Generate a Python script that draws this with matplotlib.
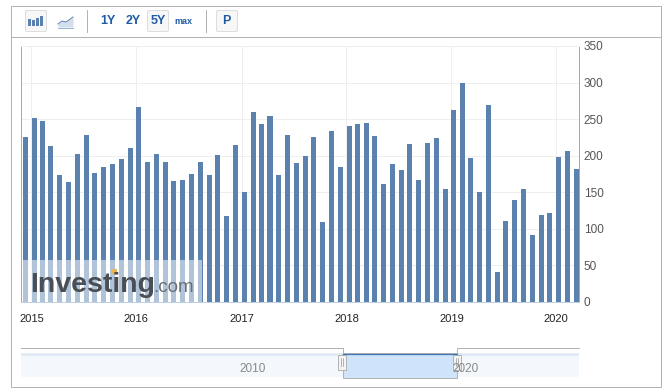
import matplotlib
matplotlib.use('Agg')
import matplotlib.pyplot as plt
from matplotlib.patches import Rectangle, FancyBboxPatch
import pandas as pd

W, H = 670, 390

values = [225, 252, 248, 213, 173, 164, 202, 228, 176, 185, 188, 195, 210, 267, 192, 203,
          192, 166, 167, 175, 192, 173, 201, 118, 214, 150, 260, 244, 254, 173, 229, 190,
          200, 226, 109, 234, 184, 241, 243, 245, 227, 162, 188, 180, 216, 167, 217, 224,
          155, 263, 299, 197, 150, 269, 41, 111, 140, 155, 92, 119, 122, 198, 207, 182]
dates = pd.date_range('2014-12-10', periods=len(values), freq=pd.DateOffset(months=1))
years = [2015, 2016, 2017, 2018, 2019, 2020]
y_ticks = [0, 50, 100, 150, 200, 250, 300, 350]
range_buttons = ['1Y', '2Y', '5Y']
nav_years = ['2010', '2020']

plt.rcParams['font.family'] = ['Liberation Sans', 'DejaVu Sans']
BAR = '#5b82ae'
GRID = '#eeeeee'
FRAME = '#b3b3b3'
BLUE = '#1f5ca6'
LW = 0.72  # one pixel at dpi 100

fig = plt.figure(figsize=(W / 100, H / 100), dpi=100, facecolor='white')


def px_axes(x0, y0, x1, y1, **kw):
    # axes placed using image pixels (y from the top)
    return fig.add_axes([x0 / W, 1 - y1 / H, (x1 - x0) / W, (y1 - y0) / H], **kw)


# main chart
ax = px_axes(20.5, 46, 579, 302)
ax.bar(dates, values, width=17.4, color=BAR, zorder=3)
ax.set_xlim(pd.Timestamp('2014-11-24'), pd.Timestamp('2020-03-20'))
ax.set_ylim(0, 350)
ax.set_yticks(y_ticks)
ax.set_xticks([pd.Timestamp(str(y) + '-01-01') for y in years])
ax.set_xticklabels(years)
ax.yaxis.tick_right()
ax.grid(True, color=GRID, lw=LW, zorder=0)
ax.tick_params(axis='both', length=0)
ax.tick_params(axis='y', labelsize=8.5, labelcolor='#555555', pad=3.5)
ax.tick_params(axis='x', labelsize=8, labelcolor='#222222', pad=9)
for side, col in [('top', GRID), ('left', '#aaaaaa'), ('right', '#aaaaaa'), ('bottom', '#c0d0e2')]:
    ax.spines[side].set_color(col)
    ax.spines[side].set_linewidth(LW)

# overlay in pixel coordinates for the page chrome
ov = fig.add_axes([0, 0, 1, 1], facecolor='none')
ov.set_xlim(0, W)
ov.set_ylim(H, 0)
ov.axis('off')

# outer frame and toolbar
ov.add_patch(Rectangle((10.5, 5.5), 650.5, 381, fill=False, ec=FRAME, lw=LW))
ov.plot([10.5, 661], [36.5, 36.5], color=FRAME, lw=LW)
for x in [86.5, 205.5]:
    ov.plot([x, x], [10, 32], color=FRAME, lw=LW)
for x0 in [25.5, 147.5, 216.5]:
    ov.add_patch(FancyBboxPatch((x0, 10.5), 21, 21, boxstyle='round,pad=0,rounding_size=1.5',
                                fc='#f7f7f7', ec='#dddddd', lw=LW))

# bar icon
for x, h in zip([28, 32, 36, 40], [7, 6, 8, 10]):
    ov.add_patch(Rectangle((x + 0.2, 26 - h), 2.8, h, fc=BAR, ec='none'))
# area icon
icon_x = [58, 62, 66, 69, 73]
icon_y = [24, 21, 22, 20, 17]
ov.fill_between(icon_x, icon_y, 27, color='#d3dfec', lw=0)
ov.plot(icon_x, icon_y, color=BAR, lw=0.7)
ov.plot([58, 73], [27.5, 27.5], color='#9db5d0', lw=LW)

for label, x in zip(range_buttons, [107.5, 133, 158]):
    ov.text(x, 21, label, color=BLUE, fontsize=9, fontweight='bold', ha='center', va='center')
ov.text(183, 21, 'max', color=BLUE, fontsize=6.5, fontweight='bold', ha='center', va='center')
ov.text(226.5, 21, 'P', color=BLUE, fontsize=9, fontweight='bold', ha='center', va='center')

# watermark
ov.add_patch(Rectangle((23, 260), 179, 42, fc='white', alpha=0.52, ec='none'))
ov.text(30, 292, 'Investing', color='#4a4e55', fontsize=20.5, fontweight='bold',
        ha='left', va='baseline')
ov.text(153.5, 292, '.com', color='#6a6e74', fontsize=13.5, ha='left', va='baseline')
ov.add_patch(Rectangle((111.5, 269), 5, 4.5, fc='#eab65c', ec='none'))

# navigator
ov.add_patch(Rectangle((21, 353), 558, 24, fc='#f4f8fd', ec='none'))
ov.add_patch(Rectangle((21, 353), 558, 2.5, fc='#e2ebf5', ec='none'))
ov.plot([21, 342.5, 342.5], [347.5, 347.5, 353], color=FRAME, lw=LW)
ov.plot([456.5, 456.5, 579], [353, 347.5, 347.5], color=FRAME, lw=LW)
ov.add_patch(Rectangle((342.5, 353), 114, 24.5, fc='#cfe3fb', ec=FRAME, lw=LW))
ov.plot([342.5, 456.5], [353.5, 353.5], color='#3f78b5', lw=0.9)
for x0 in [337.5, 453]:
    ov.add_patch(Rectangle((x0, 354.5), 8, 15, fc='#f4f4f4', ec=FRAME, lw=LW))
    ov.plot([x0 + 3, x0 + 3], [358, 366], color='#999999', lw=0.5)
    ov.plot([x0 + 5, x0 + 5], [358, 366], color='#999999', lw=0.5)
for label, x in zip(nav_years, [253, 466]):
    ov.text(x, 369, label, color='#888888', fontsize=8.5, ha='center', va='center')

fig.savefig('out.png', dpi=100)
